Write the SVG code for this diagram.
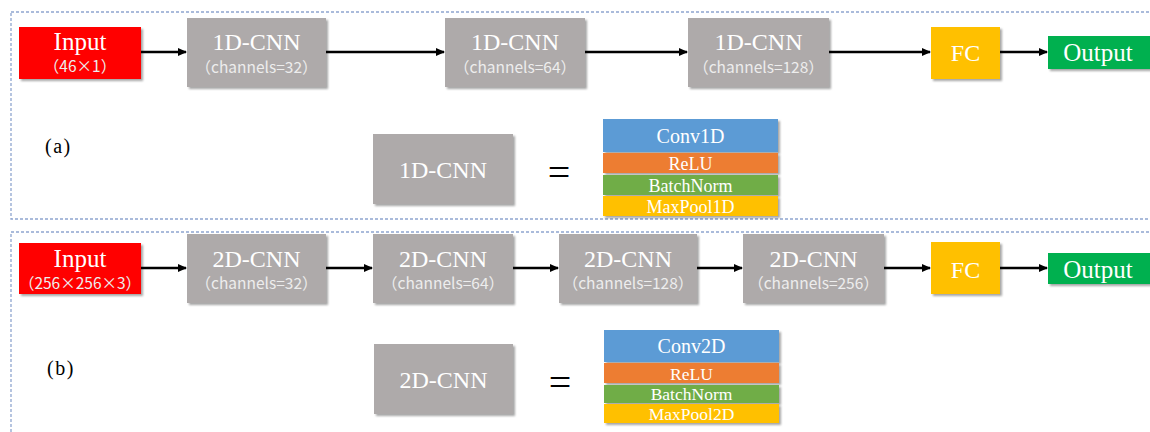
<svg xmlns="http://www.w3.org/2000/svg" width="1150" height="432" viewBox="0 0 1150 432">
<style>
.frame{fill:none;stroke:#8EA5CF;stroke-width:1.3;stroke-dasharray:3 2}
.box{filter:url(#sh)}
.gray{fill:#AEAAAA}
.red{fill:#FF0000}
.fc{fill:#FFC000}
.out{fill:#00B050}
.blue{fill:#5B9BD5}
.orange{fill:#ED7D31}
.green{fill:#70AD47}
.yellow{fill:#FFC000}
.t{font-family:"Liberation Serif","Times New Roman",serif;fill:#FFFFFF;text-anchor:middle}
.s{font-family:"Noto Sans CJK SC","Noto Sans",sans-serif;fill:#EDEDED;text-anchor:middle;font-size:15.5px}
.lab{font-family:"Liberation Serif","Times New Roman",serif;fill:#000;font-size:20px;letter-spacing:1.5px}
.eq{font-family:"Liberation Serif","Times New Roman",serif;fill:#000;font-size:40px;text-anchor:middle}
.arr{stroke:#000;stroke-width:2.5;fill:none;marker-end:url(#ah)}
</style>
<defs>
<filter id="sh" x="-10%" y="-10%" width="125%" height="130%">
<feDropShadow dx="2" dy="2" stdDeviation="1.3" flood-color="#000" flood-opacity="0.35"/>
</filter>
<marker id="ah" markerWidth="10" markerHeight="10" refX="8" refY="5" orient="auto" markerUnits="userSpaceOnUse">
<path d="M0,1 L9,5 L0,9 Z" fill="#000"/>
</marker>
</defs>
<rect width="1150" height="432" fill="#FFFFFF"/>
<g id="frames">
<rect class="frame" x="11" y="12" width="1150" height="207"/>
<rect class="frame" x="11" y="232" width="1150" height="220"/>
</g>
<g id="connectors">
<line class="arr" x1="141" y1="52" x2="186" y2="52"/>
<line class="arr" x1="326" y1="52" x2="444" y2="52"/>
<line class="arr" x1="585" y1="52" x2="687" y2="52"/>
<line class="arr" x1="829" y1="52" x2="930" y2="52"/>
<line class="arr" x1="1000" y1="52" x2="1047" y2="52"/>
<line class="arr" x1="141" y1="268" x2="186" y2="268"/>
<line class="arr" x1="326" y1="268" x2="372" y2="268"/>
<line class="arr" x1="513" y1="268" x2="558" y2="268"/>
<line class="arr" x1="697" y1="268" x2="742" y2="268"/>
<line class="arr" x1="884" y1="268" x2="930" y2="268"/>
<line class="arr" x1="1000" y1="268" x2="1047" y2="268"/>
</g>
<g id="a-input"><rect class="box red" x="19" y="27" width="122" height="52"/><text class="t" x="80" y="50" font-size="25">Input</text><text class="s" x="80" y="72">（46×1）</text></g>
<g id="a-cnn1"><rect class="box gray" x="187" y="18" width="139" height="69"/><text class="t" x="256.5" y="50" font-size="24">1D-CNN</text><text class="s" x="256.5" y="73">（channels=32）</text></g>
<g id="a-cnn2"><rect class="box gray" x="445" y="18" width="140" height="69"/><text class="t" x="515" y="50" font-size="24">1D-CNN</text><text class="s" x="515" y="73">（channels=64）</text></g>
<g id="a-cnn3"><rect class="box gray" x="688" y="18" width="141" height="69"/><text class="t" x="758.5" y="50" font-size="24">1D-CNN</text><text class="s" x="758.5" y="73">（channels=128）</text></g>
<g id="a-fc"><rect class="box fc" x="931" y="27" width="69" height="52"/><text class="t" x="965.5" y="61" font-size="24">FC</text></g>
<g id="a-output"><rect class="box out" x="1048" y="36" width="110" height="33"/><text class="t" x="1098" y="61" font-size="25">Output</text></g>
<g id="a-label"><text class="lab" x="45" y="153">(a)</text></g>
<g id="a-legend"><rect class="box gray" x="373" y="134" width="140" height="70"/><text class="t" x="443" y="178" font-size="24">1D-CNN</text></g>
<g id="a-eq"><text class="eq" x="559" y="186">=</text></g>
<g id="a-stack">
<rect class="box blue" x="603" y="119" width="175" height="33"/><text class="t" x="690.5" y="143" font-size="20">Conv1D</text>
<rect class="box orange" x="603" y="153" width="175" height="20"/><text class="t" x="690.5" y="170" font-size="18">ReLU</text>
<rect class="box green" x="603" y="175" width="175" height="20"/><text class="t" x="690.5" y="192" font-size="18">BatchNorm</text>
<rect class="box yellow" x="603" y="196" width="175" height="20"/><text class="t" x="690.5" y="213" font-size="18">MaxPool1D</text>
</g>
<g id="b-input"><rect class="box red" x="19" y="243" width="122" height="51"/><text class="t" x="80" y="267" font-size="25">Input</text><text class="s" x="80" y="289">（256×256×3）</text></g>
<g id="b-cnn1"><rect class="box gray" x="187" y="234" width="139" height="69"/><text class="t" x="256.5" y="267" font-size="24">2D-CNN</text><text class="s" x="256.5" y="289">（channels=32）</text></g>
<g id="b-cnn2"><rect class="box gray" x="373" y="234" width="140" height="69"/><text class="t" x="443" y="267" font-size="24">2D-CNN</text><text class="s" x="443" y="289">（channels=64）</text></g>
<g id="b-cnn3"><rect class="box gray" x="559" y="234" width="138" height="69"/><text class="t" x="628" y="267" font-size="24">2D-CNN</text><text class="s" x="628" y="289">（channels=128）</text></g>
<g id="b-cnn4"><rect class="box gray" x="743" y="234" width="141" height="69"/><text class="t" x="813.5" y="267" font-size="24">2D-CNN</text><text class="s" x="813.5" y="289">（channels=256）</text></g>
<g id="b-fc"><rect class="box fc" x="931" y="242" width="69" height="52"/><text class="t" x="965.5" y="278" font-size="24">FC</text></g>
<g id="b-output"><rect class="box out" x="1048" y="253" width="110" height="31"/><text class="t" x="1098" y="278" font-size="25">Output</text></g>
<g id="b-label"><text class="lab" x="47" y="375">(b)</text></g>
<g id="b-legend"><rect class="box gray" x="374" y="344" width="139" height="70"/><text class="t" x="443.5" y="388" font-size="24">2D-CNN</text></g>
<g id="b-eq"><text class="eq" x="560" y="396">=</text></g>
<g id="b-stack">
<rect class="box blue" x="604" y="330" width="175" height="32"/><text class="t" x="691.5" y="353" font-size="20">Conv2D</text>
<rect class="box orange" x="604" y="363" width="175" height="20"/><text class="t" x="691.5" y="380" font-size="17.5">ReLU</text>
<rect class="box green" x="604" y="385" width="175" height="18"/><text class="t" x="691.5" y="400" font-size="17.5">BatchNorm</text>
<rect class="box yellow" x="604" y="404" width="175" height="19"/><text class="t" x="691.5" y="420" font-size="17.5">MaxPool2D</text>
</g>
</svg>
